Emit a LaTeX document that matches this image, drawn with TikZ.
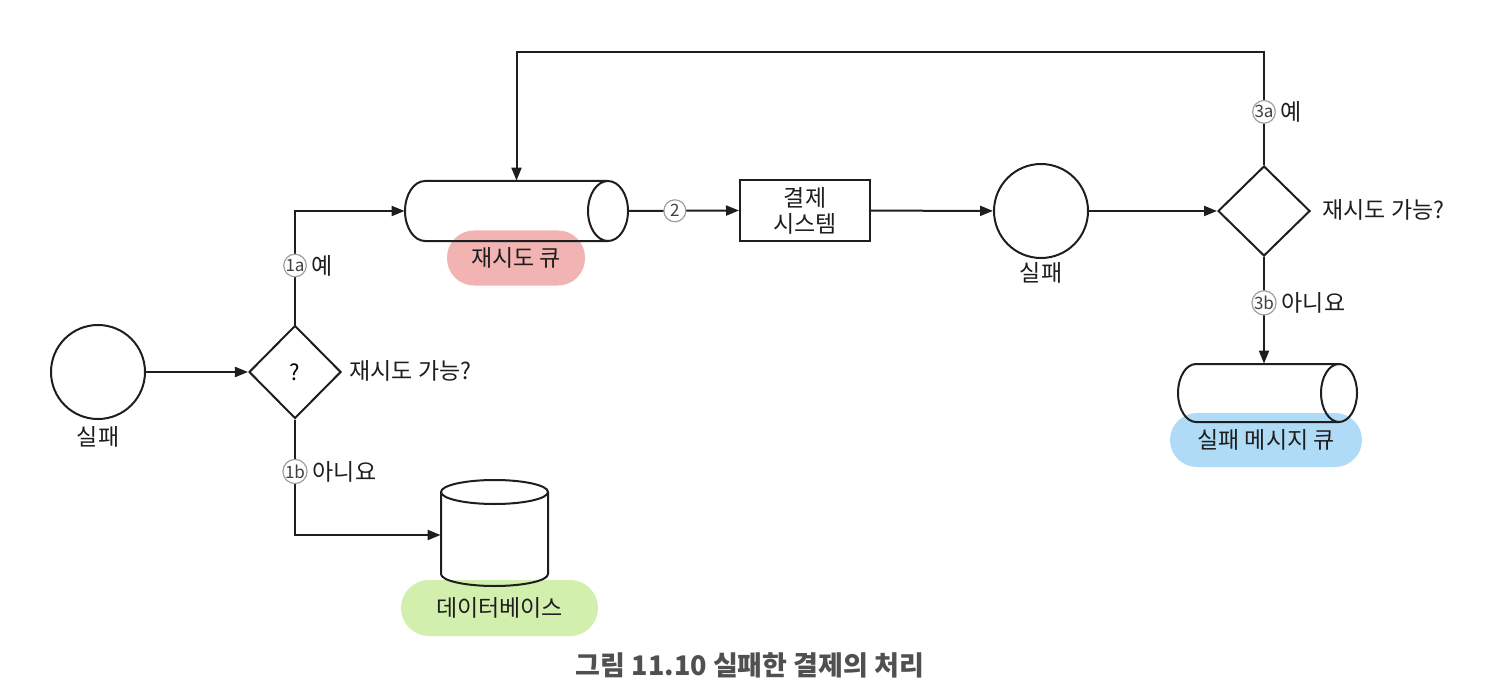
\documentclass[tikz,border=0pt]{standalone}
\usepackage{fontspec}
\setmainfont{Noto Sans CJK KR}
\usetikzlibrary{shapes.geometric,arrows.meta}
\definecolor{ink}{HTML}{1E1E1E}
\definecolor{pinkq}{HTML}{F2B3B3}
\definecolor{greendb}{HTML}{D2EFAE}
\definecolor{bluedlq}{HTML}{AFDBF7}
\definecolor{capgray}{HTML}{505050}
\begin{document}
\begin{tikzpicture}[x=0.5pt,y=-0.5pt,
  ln/.style={draw=ink,line width=1pt},
  arr/.style={draw=ink,line width=1pt,-{Triangle[length=6.5pt,width=5pt]}},
  numc/.style={circle,draw=gray!75,fill=white,line width=0.6pt,inner sep=0pt,minimum size=11pt,font=\fontsize{8.5}{8.5}\selectfont,text=ink!85},
  txt/.style={font=\fontsize{11.5}{13}\selectfont,text=ink,inner sep=0pt},
  anchorbox/.style={rectangle,inner sep=0pt},
  fcircle/.style={circle,draw=ink,line width=1pt,inner sep=0pt,minimum size=47pt},
  dia/.style={diamond,draw=ink,line width=1pt,inner sep=0pt,minimum width=46pt,minimum height=46.5pt,font=\fontsize{11}{12}\selectfont},
  pill/.style={rectangle,inner sep=0pt,font=\fontsize{11.5}{13}\selectfont,text=ink},
  yn/.style={label={[txt,label distance=2pt]right:#1}}
]
\useasboundingbox (0,0) rectangle (1508,700);

% label pills (behind shapes)
\node[pill,fill=pinkq,rounded corners=13.5pt,minimum width=69pt,minimum height=27.5pt] (rql) at (516,258) {재시도 큐};
\node[pill,fill=greendb,rounded corners=14pt,minimum width=98.5pt,minimum height=28pt] (dbl) at (499.5,608) {데이터베이스};
\node[pill,fill=bluedlq,rounded corners=13.5pt,minimum width=96pt,minimum height=27pt] (dlql) at (1266,440) {실패 메시지 큐};

% left failure circle and first decision
\node[fcircle] (c1) at (98,372) {};
\node[txt] (c1l) at (98,437) {실패};
\node[dia] (d1) at (295,372) {?};
\node[txt,anchor=west] (d1l) at (349,371) {재시도 가능?};

% retry queue (horizontal cylinder)
\node[anchorbox,minimum width=111.5pt,minimum height=30pt] (rq) at (516.5,211) {};
\draw[ln] (608,181) -- (425,181) arc[start angle=90,end angle=270,x radius=10pt,y radius=15pt] -- (608,241);
\draw[ln] (608,211) ellipse[x radius=10pt,y radius=15pt];

% database (vertical cylinder)
\node[anchorbox,minimum width=53.5pt,minimum height=50pt] (db) at (494.5,535) {};
\draw[ln] (441,492) -- (441,574) arc[start angle=180,end angle=360,x radius=26.75pt,y radius=6pt] -- (548,492);
\draw[ln] (494.5,492) ellipse[x radius=26.75pt,y radius=6pt];

% payment system
\node[rectangle,draw=ink,line width=1pt,minimum width=65pt,minimum height=30.5pt,inner sep=0pt,align=center,font=\fontsize{11.5}{13}\selectfont,text=ink] (box) at (805,210.5) {결제\\시스템};

% second failure circle and decision
\node[fcircle] (c2) at (1041,211) {};
\node[txt] (c2l) at (1041,273) {실패};
\node[dia,minimum height=45pt] (d2) at (1264,211) {};
\node[txt,anchor=west] (d2l) at (1322,210) {재시도 가능?};

% dead letter queue
\node[anchorbox,minimum width=89.5pt,minimum height=29pt] (dlq) at (1267.5,393) {};
\draw[ln] (1339,364) -- (1196,364) arc[start angle=90,end angle=270,x radius=9pt,y radius=14.5pt] -- (1339,422);
\draw[ln] (1339,393) ellipse[x radius=9pt,y radius=14.5pt];

\coordinate (top) at (1264,52);

% connectors
\draw[arr] (c1) -- (d1);
\draw[arr] (d1.north) -- node[numc,yn=예,pos=0.52]{1a} (d1.north |- rq.west) -- (rq.west);
\draw[arr] (d1.south) -- node[numc,yn=아니요,pos=0.45]{1b} (d1.south |- db.west) -- (db.west);
\draw[arr] (rq.east) -- node[numc,pos=0.42]{2} (box.west);
\draw[arr] (box) -- (c2);
\draw[arr] (c2) -- (d2);
\draw[arr] (d2.north) -- node[numc,yn=예,pos=0.47]{3a} (top) -| (rq.north);
\draw[arr] (d2.south) -- node[numc,yn=아니요,pos=0.43]{3b} (d2.south |- dlq.north);

% caption
\node[font=\bfseries\fontsize{13.5}{15}\selectfont,text=capgray,inner sep=0pt] (cap) at (750,665) {그림 11.10 실패한 결제의 처리};
\end{tikzpicture}
\end{document}
